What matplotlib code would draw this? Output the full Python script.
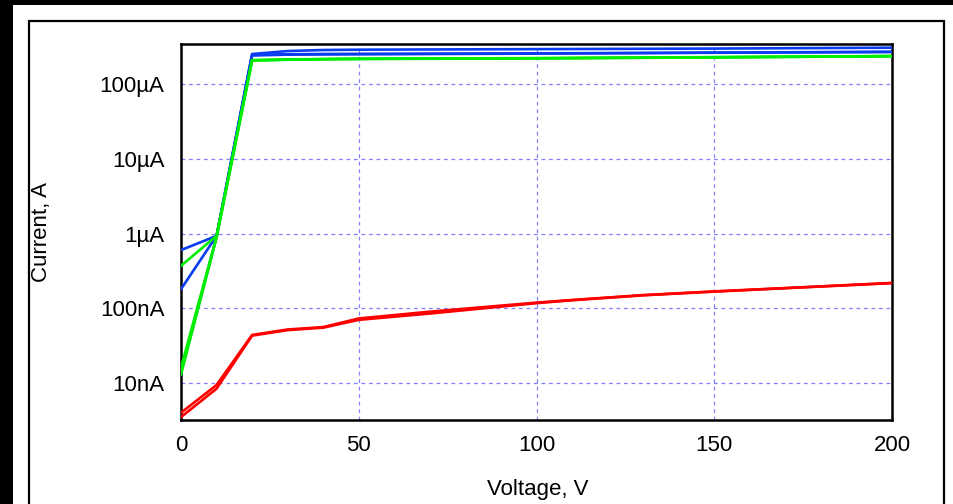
import matplotlib.pyplot as plt
import matplotlib.ticker as mticker
from matplotlib.patches import Rectangle

plt.rcParams['font.family'] = ['Liberation Sans', 'DejaVu Sans']

# dados (tensao em V, corrente em A)
v_blue = [0, 10, 20, 30, 40, 50, 100, 150, 200]
i_blue_a = [6.0e-7, 9.3e-7, 2.52e-4, 2.76e-4, 2.85e-4, 2.88e-4, 2.93e-4, 2.98e-4, 3.06e-4]
i_blue_b = [1.8e-7, 9.3e-7, 2.41e-4, 2.47e-4, 2.49e-4, 2.50e-4, 2.55e-4, 2.62e-4, 2.68e-4]
i_blue_c = [1.4e-8, 9.0e-7, 2.45e-4, 2.50e-4, 2.52e-4, 2.53e-4, 2.57e-4, 2.63e-4, 2.70e-4]

v_green = [0, 10, 20, 30, 40, 50, 100, 150, 200]
i_green_a = [3.7e-7, 9.3e-7, 2.09e-4, 2.13e-4, 2.16e-4, 2.18e-4, 2.22e-4, 2.29e-4, 2.37e-4]
i_green_b = [1.6e-8, 9.0e-7, 2.07e-4, 2.12e-4, 2.15e-4, 2.17e-4, 2.21e-4, 2.28e-4, 2.36e-4]
i_green_c = [1.3e-8, 8.8e-7, 2.06e-4, 2.11e-4, 2.14e-4, 2.16e-4, 2.20e-4, 2.27e-4, 2.35e-4]

v_red = [0, 10, 20, 30, 40, 50, 70, 100, 110, 130, 150, 200]
i_red_a = [4.0e-9, 9.4e-9, 4.4e-8, 5.2e-8, 5.6e-8, 7.3e-8, 9.0e-8, 1.19e-7, 1.29e-7, 1.50e-7, 1.68e-7, 2.18e-7]
i_red_b = [3.5e-9, 8.4e-9, 4.3e-8, 5.1e-8, 5.5e-8, 7.0e-8, 8.5e-8, 1.17e-7, 1.28e-7, 1.49e-7, 1.67e-7, 2.17e-7]

x_ticks = [0, 50, 100, 150, 200]
y_ticks = [1e-8, 1e-7, 1e-6, 1e-5, 1e-4]
y_labels = ['10nA', '100nA', '1µA', '10µA', '100µA']

W, H = 954, 504
fig = plt.figure(figsize=(W / 100, H / 100), dpi=100)

# moldura preta de fundo e quadro
fig.patches.append(Rectangle((0, 1 - 5 / H), 1, 5 / H, transform=fig.transFigure,
                             facecolor='black', edgecolor='none', zorder=0))
fig.patches.append(Rectangle((0, 0), 13 / W, 1, transform=fig.transFigure,
                             facecolor='black', edgecolor='none', zorder=0))
fig.patches.append(Rectangle((29 / W, -0.01), (944 - 29) / W, 1.01 - 21 / H,
                             transform=fig.transFigure, facecolor='none',
                             edgecolor='black', linewidth=1.6, zorder=1))

ax = fig.add_axes([181 / W, 1 - 420 / H, (892 - 181) / W, (420 - 44) / H])
ax.set_yscale('log')

lw = 1.9
blue = '#0a3cf0'
green = '#00ee00'
red = '#ff0000'
for ys in (i_blue_a, i_blue_b, i_blue_c):
    ax.plot(v_blue, ys, color=blue, lw=lw, zorder=3)
for ys in (i_green_a, i_green_b, i_green_c):
    ax.plot(v_green, ys, color=green, lw=lw, zorder=4)
for ys in (i_red_a, i_red_b):
    ax.plot(v_red, ys, color=red, lw=lw, zorder=5)

ax.set_xlim(0, 200)
ax.set_ylim(3.2e-9, 3.43e-4)
ax.set_xticks(x_ticks)
ax.set_xticklabels([str(t) for t in x_ticks])
ax.set_yticks(y_ticks)
ax.set_yticklabels(y_labels)
ax.yaxis.set_minor_locator(mticker.NullLocator())
ax.tick_params(axis='both', length=0, labelsize=16)
ax.tick_params(axis='x', pad=11)
ax.tick_params(axis='y', pad=12)

ax.grid(True, which='major', color='#8080ff', linestyle=(0, (3, 3)), linewidth=0.9)
for s in ax.spines.values():
    s.set_linewidth(1.8)
    s.set_color('black')

fig.text(42 / W, 1 - 232 / H, 'Current, A', rotation=90, ha='center', va='center', fontsize=16)
fig.text(538 / W, 1 - 489 / H, 'Voltage, V', ha='center', va='center', fontsize=16)

plt.savefig('out.png', dpi=100)
plt.close()
